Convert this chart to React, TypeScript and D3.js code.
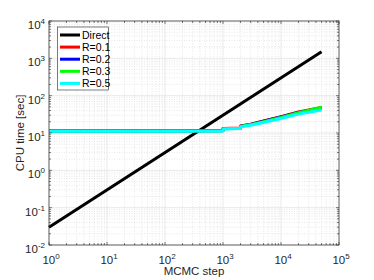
import React from "react";
import * as d3 from "d3";

const steps = [1, 10, 100, 1000, 1000, 2000, 2000, 3000, 5000, 10000, 20000, 50000];
const directSteps = [1, 50000];
const directValues = [0.03, 1500];
const r01 = [11.5, 11.5, 11.5, 11.6, 13.2, 13.6, 15.4, 17.3, 21.0, 27.5, 36.5, 48.0];
const r02 = [11.4, 11.4, 11.4, 11.5, 13.1, 13.5, 15.2, 17.0, 20.6, 26.8, 35.5, 46.5];
const r03 = [11.4, 11.4, 11.4, 11.5, 13.0, 13.4, 15.0, 16.8, 20.2, 26.2, 35.0, 49.0];
const r05 = [11.2, 11.2, 11.2, 11.3, 12.8, 13.1, 14.6, 16.2, 19.2, 24.5, 32.0, 41.5];
const seriesNames = ["Direct", "R=0.1", "R=0.2", "R=0.3", "R=0.5"];
const seriesColors = ["#000000", "#ff0000", "#0000ff", "#00ff00", "#00ffff"];
const xExps = [0, 1, 2, 3, 4, 5];
const yExps = [-2, -1, 0, 1, 2, 3, 4];

const W = 374, H = 280;
const L = 49, R = 339, T = 21, B = 245;

export default function App() {
  const x = d3.scaleLog().domain([1, 1e5]).range([L, R]);
  const y = d3.scaleLog().domain([1e-2, 1e4]).range([B, T]);
  const line = d3.line<[number, number]>().x(d => x(d[0])).y(d => y(d[1]));

  const series: [number, number][][] = [
    directSteps.map((s, i) => [s, directValues[i]]),
    steps.map((s, i) => [s, r01[i]]),
    steps.map((s, i) => [s, r02[i]]),
    steps.map((s, i) => [s, r03[i]]),
    steps.map((s, i) => [s, r05[i]]),
  ];

  const xMinor: number[] = [];
  for (let e = 0; e < 5; e++) for (let m = 2; m <= 9; m++) xMinor.push(m * Math.pow(10, e));
  const yMinor: number[] = [];
  for (let e = -2; e < 4; e++) for (let m = 2; m <= 9; m++) yMinor.push(m * Math.pow(10, e));

  const axisColor = "#262626";
  const font = "Liberation Sans, Arial, sans-serif";

  return (
    <svg width={W} height={H} style={{ position: "absolute", left: 0, top: 0, background: "#fff" }} fontFamily={font}>
      <rect x={L} y={T} width={R - L} height={B - T} fill="#fff" />
      {xMinor.map((v, i) => (
        <line key={"xmg" + i} x1={x(v)} x2={x(v)} y1={T} y2={B} stroke="#d9d9d9" strokeWidth={0.6} strokeDasharray="1,1.5" />
      ))}
      {yMinor.map((v, i) => (
        <line key={"ymg" + i} x1={L} x2={R} y1={y(v)} y2={y(v)} stroke="#d9d9d9" strokeWidth={0.6} strokeDasharray="1,1.5" />
      ))}
      {xExps.map(e => (
        <line key={"xg" + e} x1={x(Math.pow(10, e))} x2={x(Math.pow(10, e))} y1={T} y2={B} stroke="#e3e3e3" strokeWidth={0.8} />
      ))}
      {yExps.map(e => (
        <line key={"yg" + e} x1={L} x2={R} y1={y(Math.pow(10, e))} y2={y(Math.pow(10, e))} stroke="#e3e3e3" strokeWidth={0.8} />
      ))}
      {series.map((d, i) => (
        <path key={"s" + i} d={line(d) || ""} fill="none" stroke={seriesColors[i]} strokeWidth={3} strokeLinejoin="round" />
      ))}
      {xMinor.map((v, i) => (
        <g key={"xmt" + i} stroke={axisColor} strokeWidth={0.6}>
          <line x1={x(v)} x2={x(v)} y1={B} y2={B - 2} />
          <line x1={x(v)} x2={x(v)} y1={T} y2={T + 2} />
        </g>
      ))}
      {yMinor.map((v, i) => (
        <g key={"ymt" + i} stroke={axisColor} strokeWidth={0.6}>
          <line x1={L} x2={L + 2} y1={y(v)} y2={y(v)} />
          <line x1={R} x2={R - 2} y1={y(v)} y2={y(v)} />
        </g>
      ))}
      {xExps.map(e => (
        <g key={"xt" + e} stroke={axisColor} strokeWidth={0.6}>
          <line x1={x(Math.pow(10, e))} x2={x(Math.pow(10, e))} y1={B} y2={B - 3} />
          <line x1={x(Math.pow(10, e))} x2={x(Math.pow(10, e))} y1={T} y2={T + 3} />
        </g>
      ))}
      {yExps.map(e => (
        <g key={"yt" + e} stroke={axisColor} strokeWidth={0.6}>
          <line x1={L} x2={L + 3} y1={y(Math.pow(10, e))} y2={y(Math.pow(10, e))} />
          <line x1={R} x2={R - 3} y1={y(Math.pow(10, e))} y2={y(Math.pow(10, e))} />
        </g>
      ))}
      <rect x={L} y={T} width={R - L} height={B - T} fill="none" stroke={axisColor} strokeWidth={0.7} />
      {xExps.map(e => (
        <text key={"xl" + e} x={x(Math.pow(10, e)) + 2} y={264} textAnchor="middle" fill={axisColor} fontSize={11.5}>
          10<tspan fontSize={8} dy={-5}>{e}</tspan>
        </text>
      ))}
      {yExps.map(e => (
        <text key={"yl" + e} x={45} y={y(Math.pow(10, e)) + 8} textAnchor="end" fill={axisColor} fontSize={11.5}>
          10<tspan fontSize={8} dy={-5}>{e}</tspan>
        </text>
      ))}
      <text x={(L + R) / 2} y={275} textAnchor="middle" fill={axisColor} fontSize={11.5}>MCMC step</text>
      <text transform={`translate(24,${(T + B) / 2}) rotate(-90)`} textAnchor="middle" fill={axisColor} fontSize={11.5}>CPU time [sec]</text>
      <rect x={57.5} y={27} width={51} height={63} fill="#fff" stroke={axisColor} strokeWidth={0.6} />
      {seriesNames.map((n, i) => (
        <g key={"lg" + i}>
          <line x1={60} x2={80} y1={35 + i * 12.1} y2={35 + i * 12.1} stroke={seriesColors[i]} strokeWidth={3} />
          <text x={82} y={35 + i * 12.1 + 3.7} fontSize={10.5} fill="#000">{n}</text>
        </g>
      ))}
    </svg>
  );
}
